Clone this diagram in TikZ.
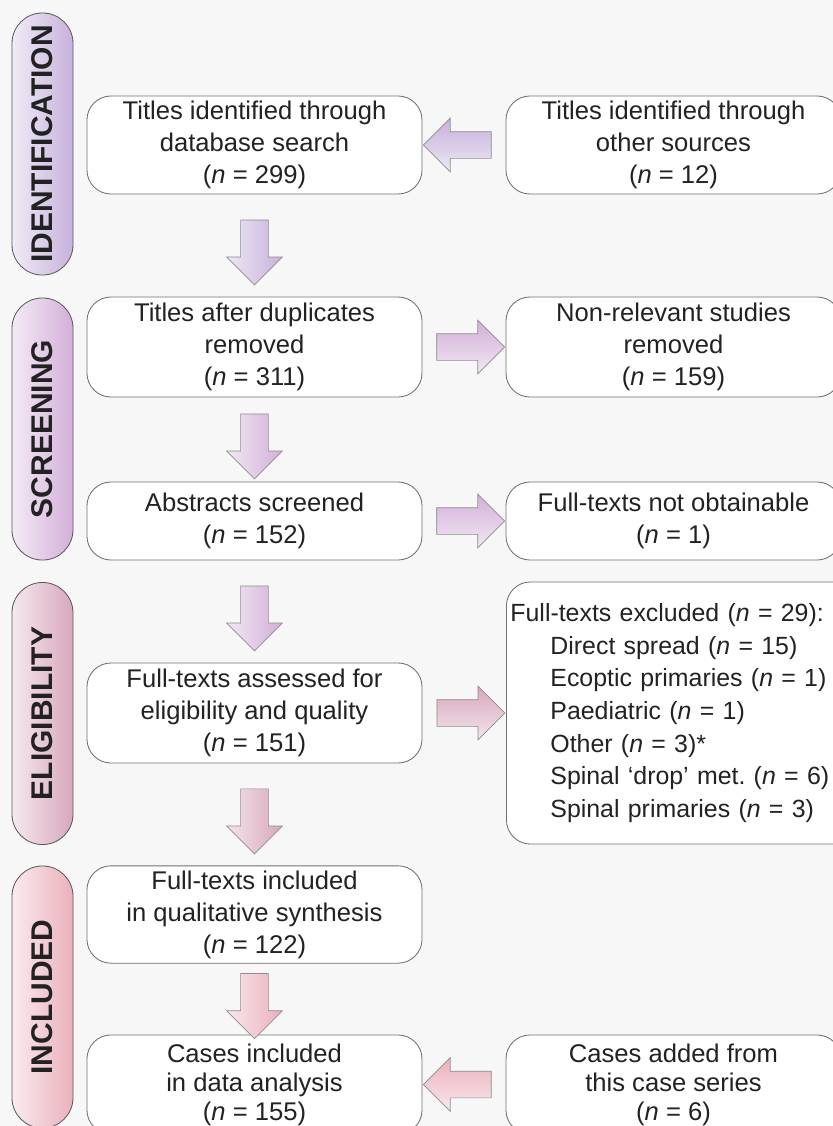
\documentclass[tikz,border=0pt]{standalone}
\usepackage{fontspec}
\setmainfont{Liberation Sans}
\usetikzlibrary{shapes.arrows}

\definecolor{pagebg}{HTML}{F7F7F7}
\definecolor{boxline}{HTML}{707070}
\definecolor{inktext}{HTML}{222222}
\definecolor{identcol}{HTML}{C6B1DC}
\definecolor{screencol}{HTML}{D3AFD9}
\definecolor{eligcol}{HTML}{D8A7BD}
\definecolor{inclcol}{HTML}{EBB0BC}

\tikzset{
  stage/.style={draw=boxline, line width=0.6pt, fill=white, rounded corners=0.6cm,
    minimum width=8.375cm, align=center, text=inktext, font=\fontsize{18.2}{22.8}\selectfont\frenchspacing},
  phase/.style={draw=boxline!80!black, line width=0.6pt, rotate=90, rounded corners=0.76cm,
    minimum width=6.55cm, minimum height=1.525cm, text=inktext,
    font=\fontsize{21.3}{24}\selectfont\bfseries, left color=#1!25!white, right color=#1},
  blockdown/.style={single arrow, draw=boxline!80, line width=0.5pt, shape border rotate=270,
    inner sep=0.3375cm, minimum height=1.625cm, minimum width=1.375cm,
    single arrow head extend=0.35cm, left color=#1!30!white, right color=#1},
  blockleft/.style={single arrow, draw=boxline!80, line width=0.5pt, shape border rotate=180,
    inner sep=0.325cm, minimum height=1.7cm, minimum width=1.325cm,
    single arrow head extend=0.3375cm, top color=#1, bottom color=#1!30!white},
  blockright/.style={single arrow, draw=boxline!80, line width=0.5pt, shape border rotate=0,
    inner sep=0.325cm, minimum height=1.7cm, minimum width=1.325cm,
    single arrow head extend=0.3375cm, top color=#1, bottom color=#1!30!white}
}

\begin{document}
\begin{tikzpicture}[x=0.025cm, y=-0.025cm]
    % Page
    \useasboundingbox (0,0) rectangle (833,1126);
    \clip (0,0) rectangle (833,1126);
    \fill[pagebg] (0,0) rectangle (833,1126);

    % Phase labels
    \node[phase=identcol] (identify) at (42.5,144) {IDENTIFICATION};
    \node[phase=screencol] (screen) at (42.5,429) {SCREENING};
    \node[phase=eligcol] (eligible) at (42.5,713.5) {ELIGIBILITY};
    \node[phase=inclcol] (include) at (42.5,997) {INCLUDED};

    % Identification
    \node[stage, minimum height=2.45cm] (titlesdb) at (254.5,145) {Titles identified through\\database search\\(\textit{n} = 299)};
    \node[stage, minimum height=2.45cm] (titlesother) at (673.5,145) {Titles identified through\\other sources\\(\textit{n} = 12)};

    % Screening
    \node[stage, minimum height=2.5cm] (dupremoved) at (254.5,347) {Titles after duplicates\\removed\\(\textit{n} = 311)};
    \node[stage, minimum height=2.5cm] (nonrelevant) at (673.5,347) {Non-relevant studies\\removed\\(\textit{n} = 159)};
    \node[stage, minimum height=1.95cm] (abstracts) at (254.5,521) {Abstracts screened\\(\textit{n} = 152)};
    \node[stage, minimum height=1.95cm] (notobtained) at (673.5,521) {Full-texts not obtainable\\(\textit{n} = 1)};

    % Eligibility
    \node[stage, minimum height=2.5cm] (assessed) at (254.5,713) {Full-texts assessed for\\eligibility and quality\\(\textit{n} = 151)};
    \node[stage, anchor=west, minimum height=6.55cm, text width=8.8cm, align=left, inner xsep=0.1cm,
      font=\fontsize{17.7}{23.2}\selectfont\frenchspacing] (excluded) at (506,713) {Full-texts excluded (\textit{n} = 29):\\
      \hspace*{1cm}Direct spread (\textit{n} = 15)\\
      \hspace*{1cm}Ecoptic primaries (\textit{n} = 1)\\
      \hspace*{1cm}Paediatric (\textit{n} = 1)\\
      \hspace*{1cm}Other (\textit{n} = 3)*\\
      \hspace*{1cm}Spinal ‘drop’ met. (\textit{n} = 6)\\
      \hspace*{1cm}Spinal primaries (\textit{n} = 3)};

    % Included
    \node[stage, minimum height=2.425cm] (qualitative) at (254.5,914.5) {Full-texts included\\in qualitative synthesis\\(\textit{n} = 122)};
    \node[stage, minimum height=2.475cm, font=\fontsize{18.2}{20.6}\selectfont] (analysed) at (254.5,1084.5) {Cases included\\in data analysis\\(\textit{n} = 155)};
    \node[stage, minimum height=2.475cm, font=\fontsize{18.2}{20.6}\selectfont] (caseseries) at (673.5,1084.5) {Cases added from\\this case series\\(\textit{n} = 6)};

    % Arrows
    \path (titlesother.west) -- (titlesdb.east) node[midway, blockleft=identcol] (arrowA) {};
    \path (titlesdb.south) -- (dupremoved.north) node[midway, blockdown=identcol] (arrowB) {};
    \path (dupremoved.east) -- (nonrelevant.west) node[midway, blockright=screencol] (arrowC) {};
    \path (dupremoved.south) -- (abstracts.north) node[midway, blockdown=screencol] (arrowD) {};
    \path (abstracts.east) -- (notobtained.west) node[midway, blockright=screencol] (arrowE) {};
    \path (abstracts.south) -- (assessed.north) node[midway, blockdown=screencol] (arrowF) {};
    \path (assessed.east) -- (excluded.west) node[midway, blockright=eligcol] (arrowG) {};
    \path (assessed.south) -- (qualitative.north) node[midway, blockdown=eligcol] (arrowH) {};
    \path (qualitative.south) -- (analysed.north) node[midway, blockdown=inclcol] (arrowI) {};
    \path (caseseries.west) -- (analysed.east) node[midway, blockleft=inclcol] (arrowJ) {};

\end{tikzpicture}
\end{document}
